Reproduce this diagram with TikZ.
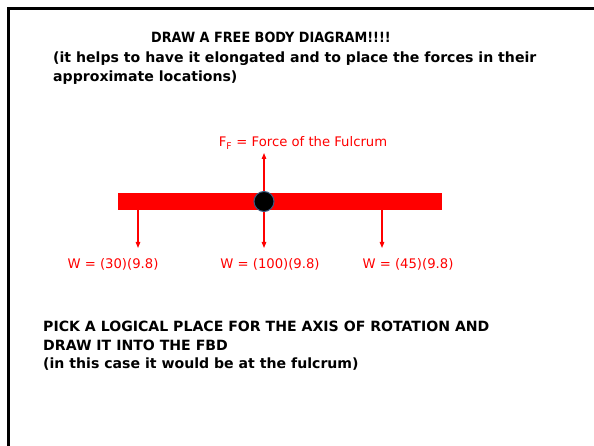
\documentclass[tikz,border=0pt]{standalone}
\usepackage{fontspec}
\setmainfont{DejaVu Sans}
\newfontfamily\headfont[FakeStretch=0.91]{DejaVu Sans}
\usetikzlibrary{arrows.meta}
\definecolor{beamred}{RGB}{255,0,0}
\definecolor{rim}{RGB}{60,90,130}

\begin{document}
\begin{tikzpicture}[x=1pt, y=-1pt,
    txt/.style={anchor=base west, inner sep=0pt, font=\fontsize{14.1}{16}\selectfont\bfseries},
    lbl/.style={anchor=base, inner sep=0pt, text=beamred, font=\fontsize{13.2}{15}\selectfont},
    force/.style={-{Triangle[length=6pt,width=4.5pt]}, beamred, line width=1.2pt}]

    \useasboundingbox (0,0) rectangle (594,446);
    \fill[white] (0,0) rectangle (594,446);

    % slide frame
    \draw[line width=3pt] (8,460) -- (8,9) -- (610,9);

    % heading
    \node[txt, font=\fontsize{14.1}{16}\headfont\bfseries] (title) at (151,43) {DRAW A FREE BODY DIAGRAM!!!!};
    \node[txt] (hint1) at (53,63) {(it helps to have it elongated and to place the forces in their};
    \node[txt] (hint2) at (53,82) {approximate locations)};

    % lever and fulcrum
    \node[fill=beamred, inner sep=0pt, minimum width=324pt, minimum height=17pt] (beam) at (280,201.5) {};
    \node[circle, fill=black, draw=rim, line width=1pt, inner sep=0pt, minimum size=20pt] (pivot) at (264,201.5) {};

    % forces
    \coordinate (up)  at (264,153);
    \coordinate (dl)  at (138,248);
    \coordinate (dm)  at (264,248);
    \coordinate (dr)  at (382,248);
    \draw[force] (pivot.north) -- (up);
    \draw[force] (dl |- beam.south) -- (dl);
    \draw[force] (pivot.south) -- (dm);
    \draw[force] (dr |- beam.south) -- (dr);

    \node[lbl] (ff) at (303,147) {F\textsubscript{F} = Force of the Fulcrum};
    \node[lbl] (w1) at (113,269) {W = (30)(9.8)};
    \node[lbl] (w2) at (270,269) {W = (100)(9.8)};
    \node[lbl] (w3) at (408,269) {W = (45)(9.8)};

    % axis instructions
    \node[txt] (pick1) at (43,331) {PICK A LOGICAL PLACE FOR THE AXIS OF ROTATION AND};
    \node[txt] (pick2) at (43,350) {DRAW IT INTO THE FBD};
    \node[txt] (pick3) at (43,368) {(in this case it would be at the fulcrum)};
\end{tikzpicture}
\end{document}
